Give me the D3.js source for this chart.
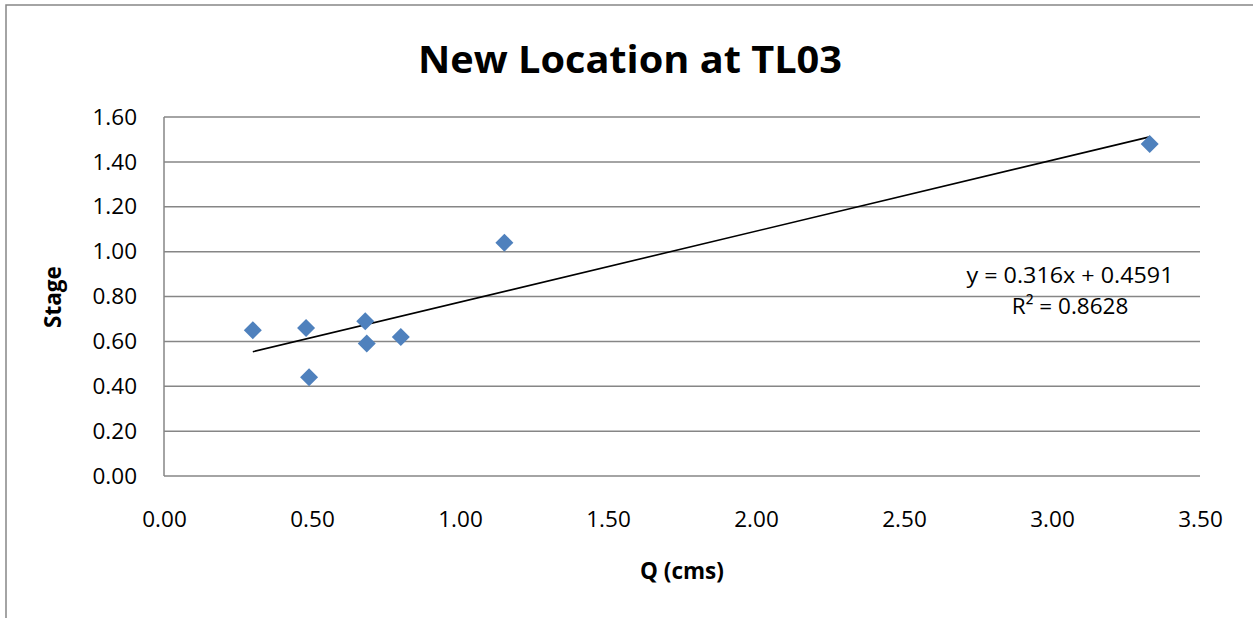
<!DOCTYPE html>
<html>
<head>
<meta charset="utf-8">
<script src="https://cdn.jsdelivr.net/npm/d3@7"></script>
<style>
  body { margin: 0; background: #fff; }
  svg { display: block; font-family: "Open Sans", "Noto Sans", sans-serif; }
</style>
</head>
<body>
<div id="chart"></div>
<script>
// data
const qValues = [0.30, 0.48, 0.49, 0.68, 0.685, 0.80, 1.15, 3.33];
const stageValues = [0.65, 0.66, 0.44, 0.69, 0.59, 0.62, 1.04, 1.48];
const xTicks = [0, 0.5, 1, 1.5, 2, 2.5, 3, 3.5];
const yTicks = [0, 0.2, 0.4, 0.6, 0.8, 1.0, 1.2, 1.4, 1.6];
const trendSlope = 0.316;
const trendIntercept = 0.4591;
const trendR2 = 0.8628;

const width = 1253, height = 618;
const margin = { top: 117, right: 53, bottom: 142, left: 164 };

const svg = d3.select('#chart').append('svg')
  .attr('width', width)
  .attr('height', height);

// outer chart frame (only top and left visible in the crop)
svg.append('path')
  .attr('d', `M6,${height} V5 H${width}`)
  .attr('fill', 'none')
  .attr('stroke', '#868686')
  .attr('stroke-width', 1.5);

const x = d3.scaleLinear()
  .domain([0, 3.5])
  .range([margin.left, width - margin.right]);
const y = d3.scaleLinear()
  .domain([0, 1.6])
  .range([height - margin.bottom, margin.top]);

// gridlines
svg.append('g')
  .selectAll('line')
  .data(yTicks).enter()
  .append('line')
  .attr('x1', x(0)).attr('x2', x(3.5))
  .attr('y1', d => y(d)).attr('y2', d => y(d))
  .attr('stroke', '#868686')
  .attr('stroke-width', 1.5);

// y axis line
svg.append('line')
  .attr('x1', x(0)).attr('x2', x(0))
  .attr('y1', y(0)).attr('y2', y(1.6))
  .attr('stroke', '#868686')
  .attr('stroke-width', 1.5);

// tick labels
const yAxis = svg.append('g')
  .attr('transform', `translate(${x(0)},0)`)
  .call(d3.axisLeft(y).tickValues(yTicks).tickFormat(d3.format('.2f')).tickSize(0).tickPadding(27));
const xAxis = svg.append('g')
  .attr('transform', `translate(0,${y(0)})`)
  .call(d3.axisBottom(x).tickValues(xTicks).tickFormat(d3.format('.2f')).tickSize(0).tickPadding(35));

[yAxis, xAxis].forEach(ax => {
  ax.select('.domain').remove();
  ax.selectAll('text')
    .attr('font-family', '"Open Sans", sans-serif')
    .attr('font-size', 22.5)
    .attr('fill', '#000');
});

// trendline
const xMin = d3.min(qValues), xMax = d3.max(qValues);
svg.append('line')
  .attr('x1', x(xMin)).attr('y1', y(trendSlope * xMin + trendIntercept))
  .attr('x2', x(xMax)).attr('y2', y(trendSlope * xMax + trendIntercept))
  .attr('stroke', '#000')
  .attr('stroke-width', 1.6);

// markers
const points = qValues.map((q, i) => ({ q, s: stageValues[i] }));
svg.append('g')
  .selectAll('path')
  .data(points).enter()
  .append('path')
  .attr('d', d3.symbol(d3.symbolSquare, 162))
  .attr('transform', d => `translate(${x(d.q)},${y(d.s)}) rotate(45)`)
  .attr('fill', '#4F81BD');

// trend equation
const eq = svg.append('g')
  .attr('font-family', '"Open Sans", sans-serif')
  .attr('font-size', 22.5)
  .attr('text-anchor', 'middle');
eq.append('text')
  .attr('x', 1070).attr('y', 283)
  .attr('textLength', 207)
  .attr('lengthAdjust', 'spacingAndGlyphs')
  .text(`y = ${trendSlope}x + ${trendIntercept}`);
eq.append('text')
  .attr('x', 1070).attr('y', 314)
  .text(`R² = ${trendR2}`);

// titles
svg.append('text')
  .attr('x', 630).attr('y', 73)
  .attr('text-anchor', 'middle')
  .attr('font-size', 38)
  .attr('font-weight', 'bold')
  .attr('textLength', 424)
  .attr('lengthAdjust', 'spacingAndGlyphs')
  .text('New Location at TL03');

svg.append('text')
  .attr('x', (x(0) + x(3.5)) / 2).attr('y', 579)
  .attr('text-anchor', 'middle')
  .attr('font-size', 22.5)
  .attr('font-weight', 'bold')
  .text('Q (cms)');

svg.append('text')
  .attr('transform', `translate(61,297) rotate(-90)`)
  .attr('text-anchor', 'middle')
  .attr('font-size', 22.5)
  .attr('font-weight', 'bold')
  .text('Stage');
</script>
</body>
</html>
